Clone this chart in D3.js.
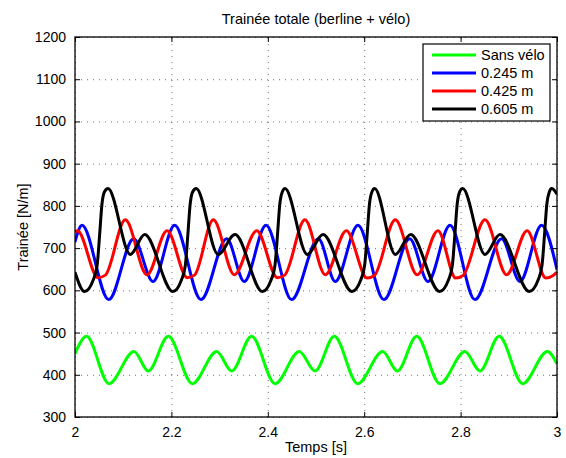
<!DOCTYPE html>
<html>
<head>
<meta charset="utf-8">
<script src="https://cdn.jsdelivr.net/npm/d3@7"></script>
<style>
    body { margin: 0; background: #fff; }
    text { font-family: "Liberation Sans", Arial, Helvetica, sans-serif; fill: #000; }
    .grid line { stroke: #000; stroke-opacity: 0.55; stroke-dasharray: 1,5; }
</style>
</head>
<body>
<div id="chartContainer"></div>
<script>
// values (time in s, drag in N/m)
const seriesNames = ['Sans vélo', '0.245 m', '0.425 m', '0.605 m'];

const greenT = [2.000, 2.024, 2.0705, 2.1224, 2.152, 2.1936, 2.2434, 2.294, 2.325, 2.3665, 2.415, 2.4654, 2.498,
    2.538, 2.5865, 2.6384, 2.6687, 2.709, 2.757, 2.809, 2.8402, 2.880, 2.9288, 2.980, 3.000];
const greenV = [450, 491, 379, 455, 409, 491, 379, 455, 409, 491, 379, 455, 409,
    491, 379, 455, 409, 491, 379, 455, 409, 491, 379, 455, 426];

const blueT = [2.000, 2.0145, 2.070, 2.1217, 2.1618, 2.2068, 2.2614, 2.3147, 2.3512, 2.3963, 2.4495, 2.505,
    2.540, 2.587, 2.641, 2.6944, 2.7324, 2.778, 2.8299, 2.885, 2.9232, 2.968, 3.000];
const blueV = [715, 754, 578, 722, 621, 754, 578, 722, 621, 754, 578, 722,
    621, 754, 578, 722, 621, 754, 578, 722, 621, 754, 649];

const redT = [2.000, 2.005, 2.048, 2.063, 2.1044, 2.1494, 2.191, 2.233, 2.248, 2.287, 2.3305, 2.377, 2.420, 2.435,
    2.477, 2.5193, 2.563, 2.606, 2.621, 2.6646, 2.710, 2.753, 2.790, 2.805, 2.8506, 2.8956, 2.938, 2.977, 2.992, 3.000];
const redV = [738, 741, 630, 636, 767, 637, 741, 630, 636, 767, 637, 741, 630, 636,
    767, 637, 741, 629, 635, 767, 637, 741, 629, 635, 767, 637, 741, 629, 635, 643];

const blackT = [2.000, 2.020, 2.038, 2.046, 2.051, 2.056, 2.061, 2.0685, 2.1148, 2.1446,
    2.2033, 2.221, 2.229, 2.234, 2.239, 2.244, 2.2515, 2.297, 2.332,
    2.389, 2.407, 2.415, 2.420, 2.425, 2.430, 2.4357, 2.482, 2.5145,
    2.5747, 2.593, 2.601, 2.606, 2.611, 2.616, 2.6217, 2.6646, 2.6964,
    2.7566, 2.775, 2.783, 2.788, 2.793, 2.798, 2.8043, 2.8506, 2.8817,
    2.9426, 2.961, 2.969, 2.974, 2.979, 2.984, 2.989, 3.000];
const blackV = [643, 597, 625, 660, 730, 805, 833, 841, 685, 732,
    597, 625, 660, 730, 805, 833, 841, 685, 732,
    597, 625, 660, 730, 805, 833, 841, 685, 732,
    597, 625, 660, 730, 805, 833, 841, 685, 732,
    597, 625, 660, 730, 805, 833, 841, 685, 732,
    597, 625, 660, 730, 805, 833, 841, 828];

const xTicks = [2, 2.2, 2.4, 2.6, 2.8, 3];
const yTicks = [300, 400, 500, 600, 700, 800, 900, 1000, 1100, 1200];

const svgWidth = 566;
const svgHeight = 458;
const margin = { top: 37, right: 9, bottom: 41, left: 75 };
const chartWidth = svgWidth - margin.left - margin.right;
const chartHeight = svgHeight - margin.top - margin.bottom;
const fontSize = 14;
const labelSize = 14.5;

const series = [
    { name: seriesNames[0], color: '#00ff00', t: greenT, v: greenV },
    { name: seriesNames[1], color: '#0000ff', t: blueT, v: blueV },
    { name: seriesNames[2], color: '#ff0000', t: redT, v: redV },
    { name: seriesNames[3], color: '#000000', t: blackT, v: blackV },
];

const svg = d3.select('#chartContainer')
    .append('svg')
    .attr('width', svgWidth)
    .attr('height', svgHeight);

const xScale = d3.scaleLinear()
    .domain([2, 3])
    .range([0, chartWidth]);

const yScale = d3.scaleLinear()
    .domain([300, 1200])
    .range([chartHeight, 0]);

const chart = svg.append('g')
    .attr('transform', `translate(${margin.left}, ${margin.top})`);

// dotted grid
chart.append('g')
    .attr('class', 'grid')
    .call(d3.axisBottom(xScale).tickValues(xTicks).tickSize(-chartHeight).tickFormat(''))
    .attr('transform', `translate(0, ${chartHeight})`)
    .call(g => g.select('.domain').remove());

chart.append('g')
    .attr('class', 'grid')
    .call(d3.axisLeft(yScale).tickValues(yTicks).tickSize(-chartWidth).tickFormat(''))
    .call(g => g.select('.domain').remove());

// curves
const line = d3.line()
    .x(d => xScale(d[0]))
    .y(d => yScale(d[1]))
    .curve(d3.curveMonotoneX);

chart.append('defs').append('clipPath')
    .attr('id', 'plotClip')
    .append('rect')
    .attr('width', chartWidth)
    .attr('height', chartHeight);

chart.append('g')
    .attr('clip-path', 'url(#plotClip)')
    .selectAll('path')
    .data(series)
    .enter().append('path')
    .attr('d', s => line(s.t.map((t, i) => [t, s.v[i]])))
    .attr('fill', 'none')
    .attr('stroke', s => s.color)
    .attr('stroke-width', 3)
    .attr('stroke-linejoin', 'round');

// axes, ticks pointing inward like matlab
const tickLen = 5;
const xAxis = d3.axisBottom(xScale).tickValues(xTicks).tickSizeInner(-tickLen).tickSizeOuter(0)
    .tickPadding(10).tickFormat(d3.format('~g'));
const yAxis = d3.axisLeft(yScale).tickValues(yTicks).tickSizeInner(-tickLen).tickSizeOuter(0)
    .tickPadding(9).tickFormat(d3.format('d'));

function styleAxis(g) {
    g.selectAll('text').style('font-size', fontSize + 'px').attr('fill', '#000');
    g.selectAll('line').attr('stroke', '#000');
    g.select('.domain').remove();
}

chart.append('g')
    .attr('transform', `translate(0, ${chartHeight})`)
    .call(xAxis).call(styleAxis);

chart.append('g')
    .call(yAxis).call(styleAxis);

chart.append('g')
    .call(d3.axisTop(xScale).tickValues(xTicks).tickSizeInner(-tickLen).tickSizeOuter(0).tickFormat(''))
    .call(styleAxis);

chart.append('g')
    .attr('transform', `translate(${chartWidth}, 0)`)
    .call(d3.axisRight(yScale).tickValues(yTicks).tickSizeInner(-tickLen).tickSizeOuter(0).tickFormat(''))
    .call(styleAxis);

chart.append('rect')
    .attr('width', chartWidth)
    .attr('height', chartHeight)
    .attr('fill', 'none')
    .attr('stroke', '#000')
    .attr('stroke-width', 1.3);

// legend
const legend = chart.append('g')
    .attr('transform', `translate(${348}, ${7})`);

legend.append('rect')
    .attr('width', 127)
    .attr('height', 77)
    .attr('fill', '#fff')
    .attr('stroke', '#000')
    .attr('stroke-width', 1.2);

const legendRow = legend.selectAll('.legend-row')
    .data(series)
    .enter().append('g')
    .attr('class', 'legend-row')
    .attr('transform', (d, i) => `translate(0, ${11 + i * 18})`);

legendRow.append('line')
    .attr('x1', 9)
    .attr('x2', 53)
    .attr('stroke', d => d.color)
    .attr('stroke-width', 3);

legendRow.append('text')
    .attr('x', 58)
    .attr('y', 5)
    .style('font-size', labelSize + 'px')
    .text(d => d.name);

// titles
svg.append('text')
    .attr('x', margin.left + chartWidth / 2)
    .attr('y', 24)
    .attr('text-anchor', 'middle')
    .style('font-size', labelSize + 'px')
    .text('Trainée totale (berline + vélo)');

svg.append('text')
    .attr('x', margin.left + chartWidth / 2)
    .attr('y', 452)
    .attr('text-anchor', 'middle')
    .style('font-size', labelSize + 'px')
    .text('Temps [s]');

svg.append('text')
    .attr('transform', `translate(28, ${margin.top + chartHeight / 2}) rotate(-90)`)
    .attr('text-anchor', 'middle')
    .style('font-size', labelSize + 'px')
    .text('Trainée [N/m]');
</script>
</body>
</html>
